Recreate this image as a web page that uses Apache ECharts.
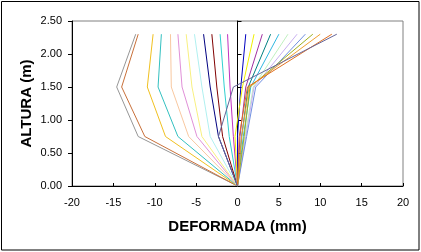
<!DOCTYPE html>
<html><head><meta charset="utf-8">
<script src="https://cdn.jsdelivr.net/npm/echarts@6/dist/echarts.min.js"></script>
<style>html,body{margin:0;padding:0;background:#fff}#c{width:421px;height:252px}</style>
</head><body><div id="c"></div>
<script>
// heights (m) of the measured points
const heights = [0, 0.75, 1.5, 2.3];
// deformation (mm) of each curve at those heights
const c01 = [0, -12.0, -14.6, -12.3];
const c02 = [0, -11.2, -14.0, -12.0];
const c03 = [0, -8.7, -10.9, -10.2];
const c04 = [0, -7.2, -9.6, -9.2];
const c05 = [0, -5.9, -8.0, -8.1];
const c06 = [0, -4.9, -6.7, -7.2];
const c07 = [0, -4.3, -5.5, -6.2];
const c08 = [0, -3.3, -4.3, -5.2];
const c09 = [0, -2.3, -3.3, -4.1];
const c10 = [0, -1.8, -2.5, -3.1];
const c11 = [0, -1.0, -1.6, -2.1];
const c12 = [0, -0.5, -0.9, -1.2];
const c13 = [0, 0.0, 0.4, 1.0];
const c14 = [0, -0.3, 0.6, 2.0];
const c15 = [0, 0.3, 1.0, 3.0];
const c16 = [0, 0.5, 1.3, 4.0];
const c17 = [0, 0.7, 1.6, 5.0];
const c18 = [0, 0.9, 1.9, 6.1];
const c19 = [0, 1.0, 2.0, 7.2];
const c20 = [0, 1.1, 2.2, 8.2];
const c21 = [0, 0.8, 1.5, 9.1];
const c22 = [0, 0.5, 1.4, 10.0];
const c23 = [0, 0.2, 1.2, 11.4];
const c24 = [0, -2.3, -0.5, 12.0];
const curves = [c01,c02,c03,c04,c05,c06,c07,c08,c09,c10,c11,c12,c13,c14,c15,c16,c17,c18,c19,c20,c21,c22,c23,c24];

const colors = ['#969696','#c8703a','#f0c020','#33c0c0','#f8c8a0','#e090d8','#f8f080','#b0f0f0',
  '#000080','#800000','#30d0d0','#c030c0','#0000c0','#f0f000','#a030a0','#008080','#30b8e0',
  '#c0f0c0','#c8b0f0','#7090e0','#a0b020','#f0a030','#e07020','#666699'];

const xTickLabels = [-20,-15,-10,-5,0,5,10,15,20];
const yTickLabels = ['0.00','0.50','1.00','1.50','2.00','2.50'];

const chart = echarts.init(document.getElementById('c'), null, {renderer:'canvas'});
const FONT = 'Liberation Sans';
const series = curves.map((c, i) => ({
  type: 'line', xAxisIndex: 0, yAxisIndex: 0, symbol: 'none', silent: true, animation: false,
  lineStyle: {width: 1, color: colors[i]},
  data: c.map((v, k) => [v, heights[k]])
}));

const centerAxis = (inside) => ({
  type: 'value', min: 0, max: 2.5, interval: 0.5, position: 'left',
  axisLine: {show: true, onZero: true, lineStyle: {color: '#000', width: 1}},
  axisTick: {show: true, inside: inside, length: 4, lineStyle: {color: '#000'}},
  axisLabel: {show: false}, splitLine: {show: false}
});

chart.setOption({
  animation: false,
  textStyle: {fontFamily: FONT},
  grid: {left: 72, right: 18, top: 21, bottom: 66, show: true, borderColor: '#808080', borderWidth: 1},
  graphic: [{type: 'rect', shape: {x: 1.5, y: 1.5, width: 417.5, height: 248.5},
    style: {fill: 'none', stroke: '#000', lineWidth: 1}, z: 100}],
  xAxis: {
    type: 'value', min: xTickLabels[0], max: xTickLabels[xTickLabels.length-1], interval: 5,
    name: 'DEFORMADA (mm)', nameLocation: 'middle', nameGap: 33,
    nameTextStyle: {fontFamily: FONT, fontSize: 15, fontWeight: 'bold', color: '#000'},
    axisLine: {show: true, onZero: false, lineStyle: {color: '#000', width: 1}},
    axisTick: {show: true, inside: true, length: 3, lineStyle: {color: '#000'}},
    axisLabel: {fontFamily: FONT, fontSize: 11, color: '#000', margin: 11},
    splitLine: {show: false}
  },
  yAxis: [{
    type: 'value', min: 0, max: 2.5, interval: 0.5, position: 'left',
    name: 'ALTURA (m)', nameLocation: 'middle', nameGap: 38, nameRotate: 90,
    nameMoveOverlap: false,
    nameTextStyle: {fontFamily: FONT, fontSize: 15, fontWeight: 'bold', color: '#000'},
    axisLine: {show: false, onZero: false},
    axisTick: {show: false},
    axisLabel: {fontFamily: FONT, fontSize: 11, color: '#000', margin: 10,
      formatter: (v) => yTickLabels[Math.round(v / 0.5)]},
    splitLine: {show: false}
  }, centerAxis(true), centerAxis(false)],
  series: series
});
</script></body></html>
